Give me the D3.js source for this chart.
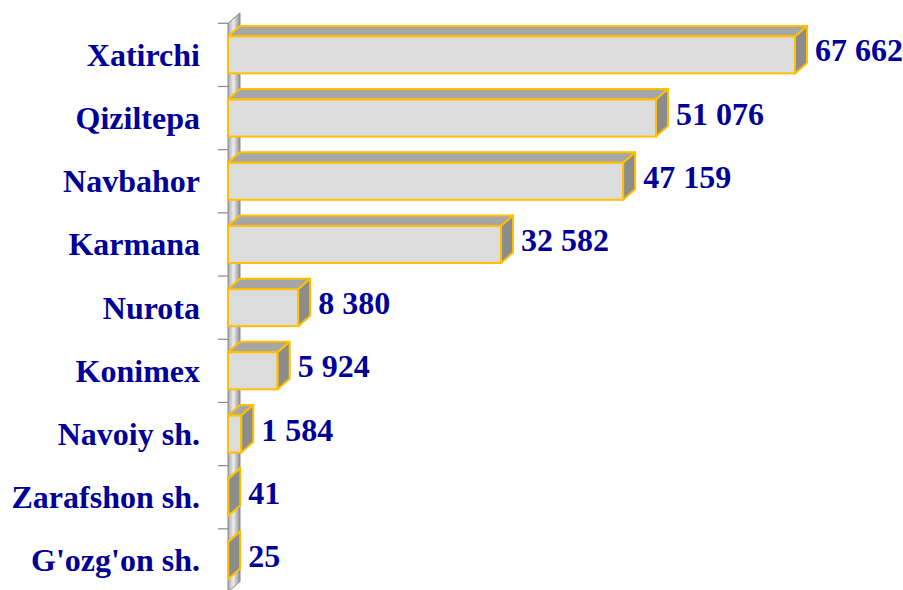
<!DOCTYPE html>
<html>
<head>
<meta charset="utf-8">
<script src="https://cdn.jsdelivr.net/npm/d3@7"></script>
<style>
  body { margin: 0; background: #fff; }
  svg { display: block; }
  text { font-family: "Liberation Serif", "Times New Roman", serif; font-weight: bold; fill: #000099; }
</style>
</head>
<body>
<svg id="chart" width="903" height="590"></svg>
<script>
// district names, top to bottom
const districts = ["Xatirchi", "Qiziltepa", "Navbahor", "Karmana", "Nurota", "Konimex", "Navoiy sh.", "Zarafshon sh.", "G'ozg'on sh."];
const values = [67662, 51076, 47159, 32582, 8380, 5924, 1584, 41, 25];
const valueLabels = ["67 662", "51 076", "47 159", "32 582", "8 380", "5 924", "1 584", "41", "25"];

const depthX = 12, depthY = 10.5;   // 3d offset
const barH = 37;

const svg = d3.select("#chart");

const x = d3.scaleLinear()
    .domain([0, d3.max(values)])
    .range([228, 795]);

const y = d3.scaleBand()
    .domain(districts)
    .range([23.3, 592])
    .padding(0);

// gradient for the side wall
const defs = svg.append("defs");
const grad = defs.append("linearGradient").attr("id", "wallGrad")
    .attr("x1", "0").attr("x2", "1").attr("y1", "0").attr("y2", "0");
grad.append("stop").attr("offset", "0%").attr("stop-color", "#a9a9a9");
grad.append("stop").attr("offset", "45%").attr("stop-color", "#ececec");
grad.append("stop").attr("offset", "100%").attr("stop-color", "#8f8f8f");

const x0 = x(0);
const wallTop = y.range()[0], wallBot = y.range()[1];

svg.append("polygon")
    .attr("points", [[x0, wallTop], [x0 + depthX, wallTop - depthY], [x0 + depthX, wallBot - depthY], [x0, wallBot]].join(" "))
    .style("fill", "url(#wallGrad)")
    .style("stroke", "#8a8a8a")
    .style("stroke-width", 1);

// tick marks between categories
const tickYs = districts.map(d => y(d)).concat([wallBot]);
svg.selectAll("line.tick")
    .data(tickYs)
    .enter()
    .append("line")
    .attr("class", "tick")
    .attr("x1", x0 - 10).attr("x2", x0)
    .attr("y1", d => d).attr("y2", d => d)
    .style("stroke", "#8a8a8a")
    .style("stroke-width", 1.2);

const bars = svg.selectAll("g.bar")
    .data(districts.map((d, i) => ({name: d, value: values[i], label: valueLabels[i]})))
    .enter()
    .append("g")
    .attr("class", "bar");

function barTop(d) { return y(d.name) + (y.bandwidth() - barH) / 2; }

// top face
bars.append("polygon")
    .attr("points", d => {
        let t = barTop(d), x1 = x(d.value);
        return [[x0, t], [x0 + depthX, t - depthY], [x1 + depthX, t - depthY], [x1, t]].join(" ");
    })
    .style("fill", "#a6a6a6")
    .style("stroke", "#ffc000")
    .style("stroke-width", 2)
    .style("stroke-linejoin", "round");

// front face
bars.append("rect")
    .attr("x", x0)
    .attr("y", d => barTop(d))
    .attr("width", d => x(d.value) - x0)
    .attr("height", barH)
    .style("fill", "#dcdcdc")
    .style("stroke", "#ffc000")
    .style("stroke-width", 2);

// right face
bars.append("polygon")
    .attr("points", d => {
        let t = barTop(d), x1 = x(d.value);
        return [[x1, t], [x1 + depthX, t - depthY], [x1 + depthX, t + barH - depthY], [x1, t + barH]].join(" ");
    })
    .style("fill", "#8c8c8c")
    .style("stroke", "#ffc000")
    .style("stroke-width", 2)
    .style("stroke-linejoin", "round");

// value labels
bars.append("text")
    .attr("x", d => x(d.value) + depthX + 8)
    .attr("y", d => barTop(d) + barH / 2 + 6.5)
    .style("font-size", "32px")
    .text(d => d.label);

// category labels
svg.selectAll("text.cat")
    .data(districts)
    .enter()
    .append("text")
    .attr("class", "cat")
    .attr("x", 200)
    .attr("y", d => y(d) + y.bandwidth() / 2 + 11)
    .attr("text-anchor", "end")
    .style("font-size", "32px")
    .text(d => d);
</script>
</body>
</html>
